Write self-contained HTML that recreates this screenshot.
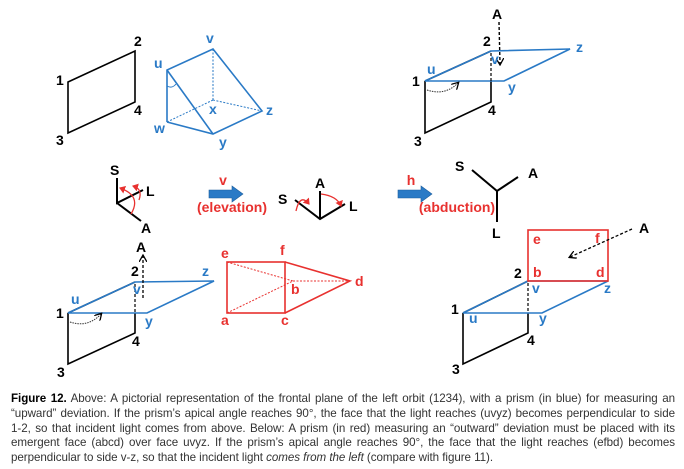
<!DOCTYPE html>
<html><head><meta charset="utf-8"><style>
body{margin:0;background:#fff;width:684px;height:469px;overflow:hidden;}
svg{position:absolute;left:0;top:0}
svg text{font-family:"Liberation Sans",Arial,sans-serif;font-weight:700;font-size:14px}
.cap{position:absolute;left:11px;top:392px;width:664px;font-family:"Liberation Sans",sans-serif;font-size:11.6px;line-height:14.8px;color:#333;text-align:justify;letter-spacing:-0.05px}
.cap b{color:#000}
.nw{white-space:nowrap}
</style></head><body>
<svg width="684" height="469" viewBox="0 0 684 469">
<defs>
<marker id="ak" markerWidth="8" markerHeight="8" refX="6" refY="4" orient="auto" markerUnits="userSpaceOnUse"><path d="M0,0 L7,4 L0,8" fill="none" stroke="#000" stroke-width="1.3"/></marker>
<marker id="ar" markerWidth="8" markerHeight="8" refX="5" refY="4" orient="auto" markerUnits="userSpaceOnUse"><path d="M0,0 L6,4 L0,8 z" fill="#e8312f"/></marker>
</defs>
<g stroke="#000" stroke-width="1.6" fill="none">
<polygon points="68,82 135,51 135,102 68,133"/>
</g>
<g fill="#000"><text x="56" y="85">1</text><text x="134" y="46">2</text><text x="134" y="115">4</text><text x="56" y="145">3</text></g>
<g stroke="#2a7ac6" stroke-width="1.6" fill="none">
<polyline points="167,122 167,70 213,49 262,111 213,134 167,122"/>
<line x1="167" y1="70" x2="213" y2="134"/>
<path d="M167,86 Q172,89 176,84" stroke-width="1"/>
</g>
<g stroke="#2a7ac6" stroke-width="1" stroke-dasharray="2,1.5" fill="none">
<line x1="213" y1="49" x2="213" y2="100"/><line x1="213" y1="100" x2="262" y2="111"/><line x1="213" y1="100" x2="167" y2="122"/>
</g>
<g fill="#2a7ac6"><text x="154" y="68">u</text><text x="206" y="43">v</text><text x="209" y="114">x</text><text x="266" y="115">z</text><text x="154" y="133">w</text><text x="219" y="147">y</text></g>
<g stroke="#000" stroke-width="1.6" fill="none"><polyline points="425,81 491,51"/><polyline points="491,81 491,102 425,133 425,81"/></g>
<g stroke="#2a7ac6" stroke-width="1.6" fill="none"><polygon points="425,81 504,81 570,49 491,51"/></g>
<line x1="491" y1="53" x2="491" y2="81" stroke="#000" stroke-width="1.2" stroke-dasharray="3,2"/>
<line x1="499" y1="22" x2="500" y2="64" stroke="#000" stroke-width="1.4" stroke-dasharray="3,2" marker-end="url(#ak)"/>
<path d="M427,90 Q445,96 458,83" stroke="#333" stroke-width="1" stroke-dasharray="1.5,1" fill="none" marker-end="url(#ak)"/>
<g fill="#000"><text x="492" y="19">A</text><text x="483" y="46">2</text><text x="412" y="86">1</text><text x="488" y="115">4</text><text x="414" y="146">3</text></g>
<g fill="#2a7ac6"><text x="427" y="74">u</text><text x="491" y="64">v</text><text x="576" y="52">z</text><text x="508" y="92">y</text></g>
<g stroke="#000" stroke-width="2" fill="none">
<polyline points="117,178 117,203 143,190"/><line x1="117" y1="203" x2="141" y2="221"/>
<polyline points="295,200 320,219 345,204"/><line x1="320" y1="191" x2="320" y2="219"/>
<polyline points="472,170 497,191 518,177"/><line x1="497" y1="191" x2="497" y2="222"/>
</g>
<g stroke="#e8312f" stroke-width="1.3" fill="none">
<path d="M131,214 Q142,196 120,188" marker-end="url(#ar)"/>
<path d="M139,200 Q143,189 133,186" marker-end="url(#ar)"/>
<path d="M296,211 Q300,193 309,204" marker-end="url(#ar)"/>
<path d="M321,194 Q337,196 341,206" marker-end="url(#ar)"/>
</g>
<g fill="#000"><text x="110" y="175">S</text><text x="146" y="196">L</text><text x="141" y="233">A</text>
<text x="315" y="188">A</text><text x="278" y="204">S</text><text x="349" y="211">L</text>
<text x="455" y="171">S</text><text x="528" y="178">A</text><text x="492" y="238">L</text></g>
<g fill="#2a7ac6" stroke="#1d5f9e" stroke-width="0.6">
<polygon points="209,190 232,190 232,186 243,194 232,202 232,198 209,198"/>
<polygon points="398,190 421,190 421,186 432,194 421,202 421,198 398,198"/>
</g>
<g fill="#e8312f" text-anchor="middle"><text x="223" y="185">v</text><text x="232" y="212">(elevation)</text><text x="411" y="185">h</text><text x="457" y="212">(abduction)</text></g>
<g stroke="#000" stroke-width="1.6" fill="none"><polyline points="68,313 135,282"/><polyline points="135,313 135,333 68,364 68,313"/></g>
<g stroke="#2a7ac6" stroke-width="1.6" fill="none"><polygon points="68,313 147,313 214,281 135,282"/></g>
<line x1="135" y1="284" x2="135" y2="313" stroke="#000" stroke-width="1.2" stroke-dasharray="3,2"/>
<line x1="143" y1="298" x2="143" y2="256" stroke="#000" stroke-width="1.3" stroke-dasharray="3,2" marker-end="url(#ak)"/>
<path d="M70,322 Q88,328 101,314" stroke="#333" stroke-width="1" stroke-dasharray="1.5,1" fill="none" marker-end="url(#ak)"/>
<g fill="#000"><text x="136" y="252">A</text><text x="131" y="276">2</text><text x="56" y="318">1</text><text x="132" y="346">4</text><text x="57" y="377">3</text></g>
<g fill="#2a7ac6"><text x="71" y="304">u</text><text x="133" y="294">v</text><text x="202" y="276">z</text><text x="145" y="326">y</text></g>
<g stroke="#e8312f" stroke-width="1.6" fill="none"><rect x="227" y="262" width="58" height="51"/><polyline points="285,262 350,281 285,313"/></g>
<g stroke="#e8312f" stroke-width="1" stroke-dasharray="2,1.5" fill="none"><polyline points="227,262 293,281 227,313"/><line x1="293" y1="281" x2="350" y2="281"/></g>
<g fill="#e8312f"><text x="221" y="258">e</text><text x="280" y="255">f</text><text x="355" y="286">d</text><text x="291" y="294">b</text><text x="221" y="325">a</text><text x="281" y="325">c</text></g>
<g stroke="#000" stroke-width="1.6" fill="none"><polyline points="463,313 528,281"/><polyline points="528,313 528,333 463,364 463,313"/></g>
<g stroke="#2a7ac6" stroke-width="1.6" fill="none"><polygon points="463,313 542,313 608,281 528,281"/></g>
<rect x="528" y="230" width="80" height="51" stroke="#e8312f" stroke-width="1.6" fill="none"/>
<line x1="528" y1="283" x2="528" y2="313" stroke="#000" stroke-width="1.2" stroke-dasharray="3,2"/>
<line x1="632" y1="229" x2="570" y2="257" stroke="#000" stroke-width="1.3" stroke-dasharray="3,2" marker-end="url(#ak)"/>
<g fill="#000"><text x="639" y="233">A</text><text x="514" y="278">2</text><text x="451" y="314">1</text><text x="527" y="345">4</text><text x="452" y="374">3</text></g>
<g fill="#e8312f"><text x="533" y="244">e</text><text x="595" y="243">f</text><text x="533" y="277">b</text><text x="596" y="277">d</text></g>
<g fill="#2a7ac6"><text x="532" y="293">v</text><text x="604" y="293">z</text><text x="469" y="323">u</text><text x="539" y="323">y</text></g>
</svg>
<div class="cap"><b>Figure 12.</b> Above: A pictorial representation of the frontal plane of the left orbit (1234), with a prism (in blue) for measuring an “upward” deviation. If the prism’s apical angle reaches 90°, the face that the light reaches (uvyz) becomes perpendicular to side <span class="nw">1-2,</span> so that incident light comes from above. Below: A prism (in red) measuring an “outward” deviation must be placed with its emergent face (abcd) over face uvyz. If the prism’s apical angle reaches 90°, the face that the light reaches (efbd) becomes perpendicular to side <span class="nw">v-z,</span> so that the incident light <i>comes from the left</i> (compare with figure 11).</div>
</body></html>
